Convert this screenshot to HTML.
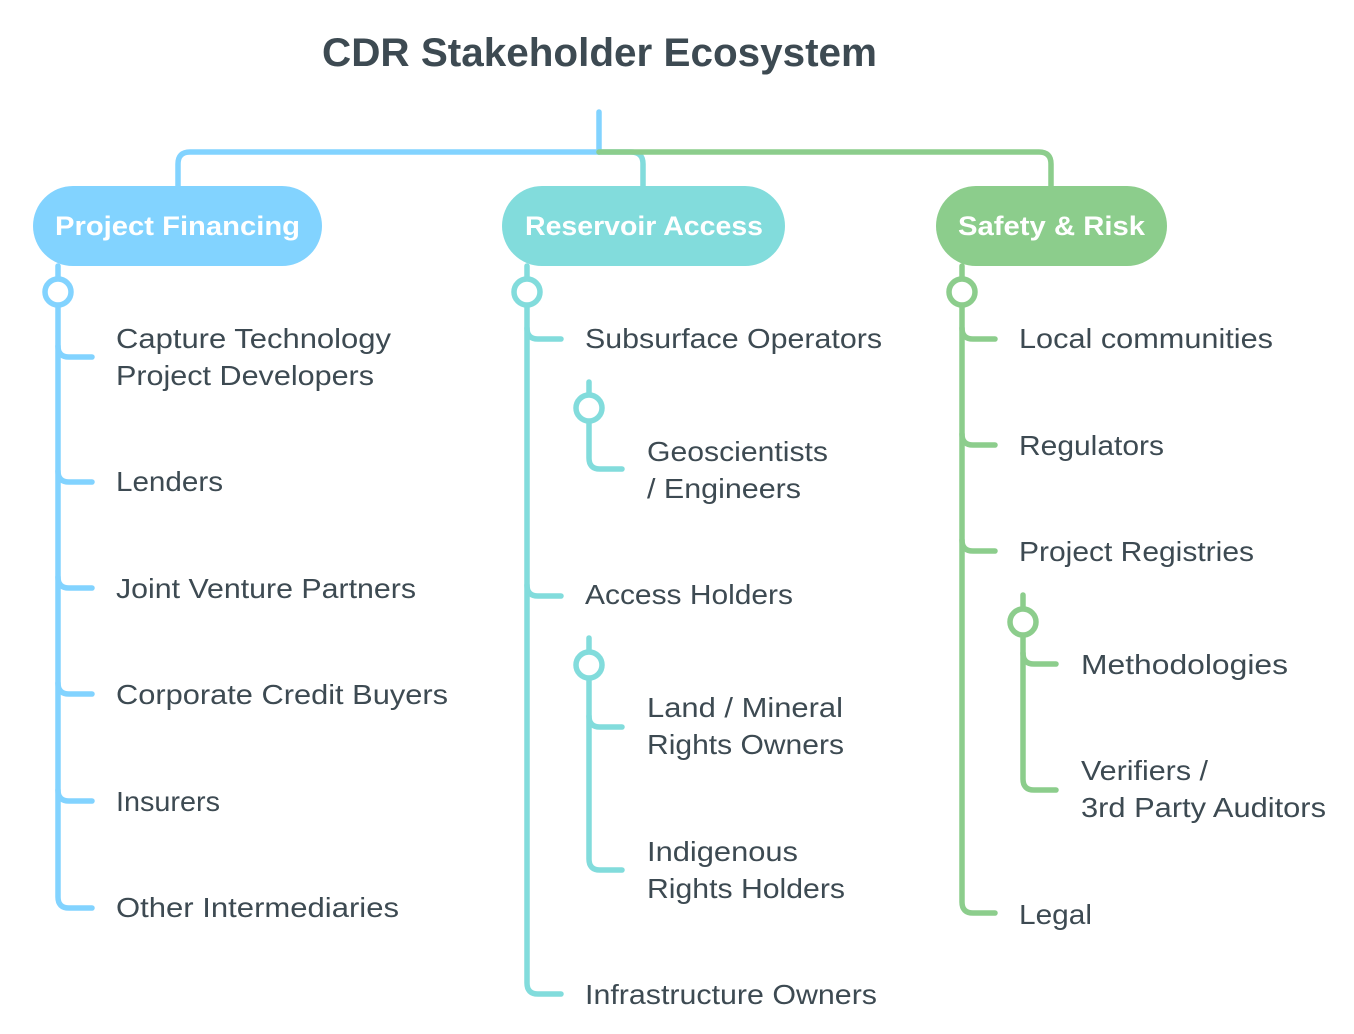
<!DOCTYPE html>
<html><head><meta charset="utf-8"><style>
html,body{margin:0;padding:0;background:#fff;width:1354px;height:1034px;overflow:hidden}
svg{display:block}
text{font-family:"Liberation Sans",sans-serif}
.t{font-size:28px;fill:#3d4a52}
.n{font-size:27px;font-weight:bold;fill:#fff}
.b{stroke:#82d3ff}.c{stroke:#82dcdc}.g{stroke:#8ccd8c}
path,line,circle{fill:none;stroke-width:5.5;stroke-linecap:round}
circle{fill:#fff}
</style></head><body>
<svg width="1354" height="1034" viewBox="0 0 1354 1034" xmlns="http://www.w3.org/2000/svg">
<text x="322" y="66" textLength="555" lengthAdjust="spacingAndGlyphs" style="font-size:40px;font-weight:bold;fill:#3d4a52">CDR Stakeholder Ecosystem</text>

<!-- top connectors -->
<line class="b" x1="599" y1="112" x2="599" y2="152"/>
<path class="b" d="M599 152 H190 Q178 152 178 164 V188"/>
<path class="c" d="M599 152 H631 Q643 152 643 164 V188"/>
<path class="g" d="M599 152 H1039 Q1051 152 1051 164 V188"/>

<!-- nodes -->
<rect x="33" y="186" width="289" height="80" rx="40" fill="#82d3ff"/>
<text class="n" x="55" y="235" textLength="245" lengthAdjust="spacingAndGlyphs">Project Financing</text>
<rect x="502" y="186" width="283" height="80" rx="40" fill="#82dcdc"/>
<text class="n" x="525" y="235" textLength="238" lengthAdjust="spacingAndGlyphs">Reservoir Access</text>
<rect x="936" y="186" width="231" height="80" rx="40" fill="#8ccd8c"/>
<text class="n" x="958" y="235" textLength="187" lengthAdjust="spacingAndGlyphs">Safety &amp; Risk</text>

<!-- blue tree -->
<path class="b" d="M58 266 V897 Q58 908 69 908 H92"/>
<path class="b" d="M58 346 Q58 357 69 357 H92"/>
<path class="b" d="M58 471 Q58 482 69 482 H92"/>
<path class="b" d="M58 577 Q58 588 69 588 H92"/>
<path class="b" d="M58 683 Q58 694 69 694 H92"/>
<path class="b" d="M58 790 Q58 801 69 801 H92"/>
<circle class="b" cx="58" cy="292" r="13"/>
<text class="t" x="116" y="348" textLength="275" lengthAdjust="spacingAndGlyphs">Capture Technology</text>
<text class="t" x="116" y="385" textLength="258" lengthAdjust="spacingAndGlyphs">Project Developers</text>
<text class="t" x="116" y="491" textLength="107" lengthAdjust="spacingAndGlyphs">Lenders</text>
<text class="t" x="116" y="598" textLength="300" lengthAdjust="spacingAndGlyphs">Joint Venture Partners</text>
<text class="t" x="116" y="704" textLength="332" lengthAdjust="spacingAndGlyphs">Corporate Credit Buyers</text>
<text class="t" x="116" y="811" textLength="104" lengthAdjust="spacingAndGlyphs">Insurers</text>
<text class="t" x="116" y="917" textLength="283" lengthAdjust="spacingAndGlyphs">Other Intermediaries</text>

<!-- teal tree -->
<path class="c" d="M527 266 V983 Q527 994 538 994 H561"/>
<path class="c" d="M527 328 Q527 339 538 339 H561"/>
<path class="c" d="M527 585 Q527 596 538 596 H561"/>
<circle class="c" cx="527" cy="292" r="13"/>
<path class="c" d="M589 382 V458 Q589 469 600 469 H622"/>
<circle class="c" cx="589" cy="408" r="13"/>
<path class="c" d="M589 638 V859 Q589 870 600 870 H622"/>
<path class="c" d="M589 716 Q589 727 600 727 H622"/>
<circle class="c" cx="589" cy="665" r="13"/>
<text class="t" x="585" y="348" textLength="297" lengthAdjust="spacingAndGlyphs">Subsurface Operators</text>
<text class="t" x="647" y="461" textLength="181" lengthAdjust="spacingAndGlyphs">Geoscientists</text>
<text class="t" x="647" y="498" textLength="154" lengthAdjust="spacingAndGlyphs">/ Engineers</text>
<text class="t" x="585" y="604" textLength="208" lengthAdjust="spacingAndGlyphs">Access Holders</text>
<text class="t" x="647" y="717" textLength="196" lengthAdjust="spacingAndGlyphs">Land / Mineral</text>
<text class="t" x="647" y="754" textLength="197" lengthAdjust="spacingAndGlyphs">Rights Owners</text>
<text class="t" x="647" y="861" textLength="151" lengthAdjust="spacingAndGlyphs">Indigenous</text>
<text class="t" x="647" y="898" textLength="198" lengthAdjust="spacingAndGlyphs">Rights Holders</text>
<text class="t" x="585" y="1004" textLength="292" lengthAdjust="spacingAndGlyphs">Infrastructure Owners</text>

<!-- green tree -->
<path class="g" d="M962 266 V902 Q962 913 973 913 H995"/>
<path class="g" d="M962 328 Q962 339 973 339 H995"/>
<path class="g" d="M962 434 Q962 445 973 445 H995"/>
<path class="g" d="M962 540 Q962 551 973 551 H995"/>
<circle class="g" cx="962" cy="292" r="13"/>
<path class="g" d="M1023 595 V779 Q1023 790 1034 790 H1056"/>
<path class="g" d="M1023 653 Q1023 664 1034 664 H1056"/>
<circle class="g" cx="1023" cy="622" r="13"/>
<text class="t" x="1019" y="348" textLength="254" lengthAdjust="spacingAndGlyphs">Local communities</text>
<text class="t" x="1019" y="455" textLength="145" lengthAdjust="spacingAndGlyphs">Regulators</text>
<text class="t" x="1019" y="561" textLength="235" lengthAdjust="spacingAndGlyphs">Project Registries</text>
<text class="t" x="1081" y="674" textLength="207" lengthAdjust="spacingAndGlyphs">Methodologies</text>
<text class="t" x="1081" y="780" textLength="127" lengthAdjust="spacingAndGlyphs">Verifiers /</text>
<text class="t" x="1081" y="817" textLength="245" lengthAdjust="spacingAndGlyphs">3rd Party Auditors</text>
<text class="t" x="1019" y="924" textLength="73" lengthAdjust="spacingAndGlyphs">Legal</text>
</svg>
</body></html>
